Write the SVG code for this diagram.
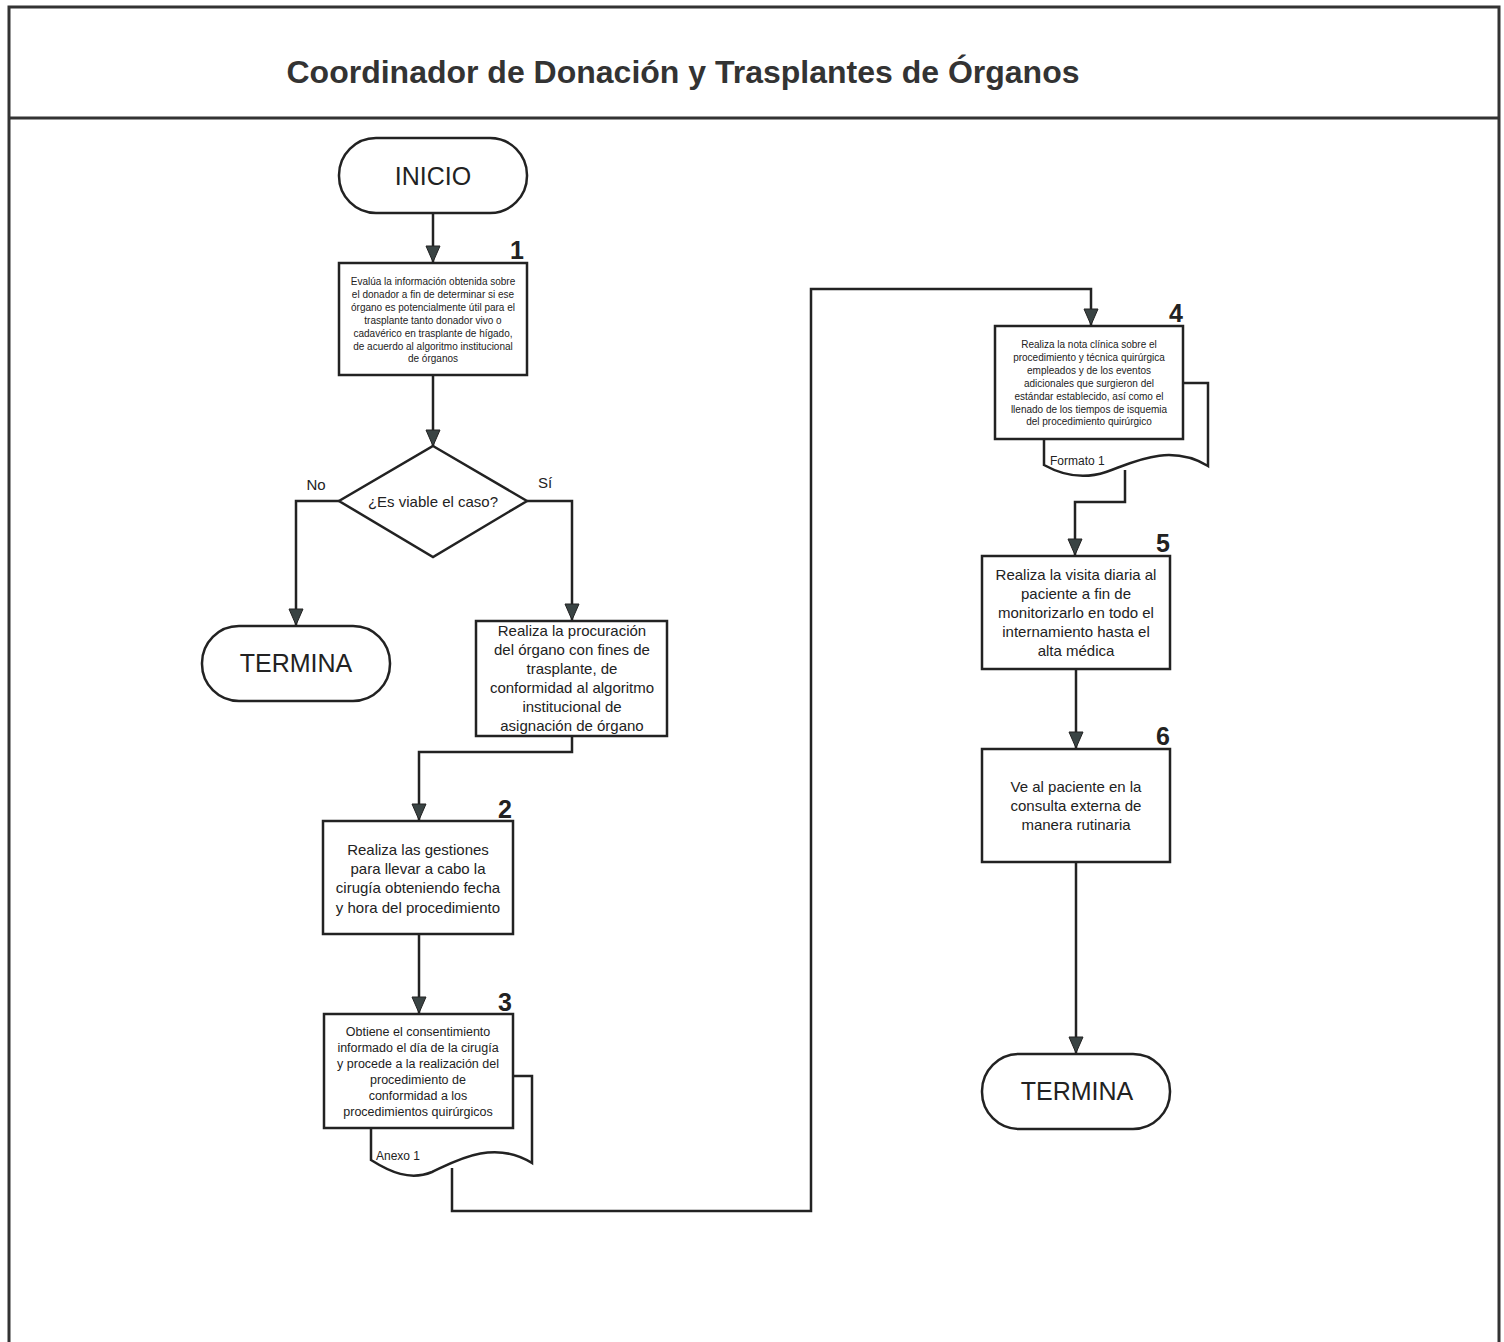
<svg xmlns="http://www.w3.org/2000/svg" width="1504" height="1342" viewBox="0 0 1504 1342">
<defs>
<marker id="arr" markerWidth="18" markerHeight="16" refX="17" refY="8" orient="auto" markerUnits="userSpaceOnUse" viewBox="0 0 18 16">
<path d="M1,1 L17,8 L1,15 Z" fill="#3a4444" stroke="#222" stroke-width="1"/>
</marker>
<style>
.frame{fill:none;stroke:#333;stroke-width:3}
.box{fill:#fff;stroke:#222;stroke-width:2.5}
.doc{fill:#fff;stroke:#222;stroke-width:2.5}
.conn{fill:none;stroke:#222;stroke-width:2.5}
.t{font-family:"Liberation Sans",Arial,sans-serif;fill:#222;text-anchor:middle}
.s10{font-size:10px}
.s15{font-size:15px}
.num{font-family:"Liberation Sans",Arial,sans-serif;font-weight:bold;font-size:25px;fill:#222;text-anchor:end}
.term{font-family:"Liberation Sans",Arial,sans-serif;font-size:25px;fill:#222;text-anchor:middle}
.lbl{font-family:"Liberation Sans",Arial,sans-serif;font-size:15px;fill:#222}
</style>
</defs>
<rect width="1504" height="1342" fill="#fff"/>
<g id="frame">
<path class="frame" d="M9,1342 V7 H1499 V1342"/>
<line class="frame" x1="9" y1="118" x2="1499" y2="118"/>
<text x="683" y="83" font-family="'Liberation Sans',Arial,sans-serif" font-size="31" font-weight="bold" fill="#333" text-anchor="middle" textLength="793" lengthAdjust="spacingAndGlyphs">Coordinador de Donación y Trasplantes de Órganos</text>
</g>
<g id="connectors">
<line class="conn" x1="433" y1="212" x2="433" y2="262" marker-end="url(#arr)"/>
<line class="conn" x1="433" y1="375" x2="433" y2="446" marker-end="url(#arr)"/>
<polyline class="conn" points="339,501 296,501 296,625" marker-end="url(#arr)"/>
<polyline class="conn" points="527,501 572,501 572,620" marker-end="url(#arr)"/>
<polyline class="conn" points="572,736 572,752 419,752 419,820" marker-end="url(#arr)"/>
<line class="conn" x1="419" y1="934" x2="419" y2="1013" marker-end="url(#arr)"/>
<polyline class="conn" points="452,1168 452,1211 811,1211 811,289 1091,289 1091,325" marker-end="url(#arr)"/>
<polyline class="conn" points="1125,470 1125,502 1075,502 1075,555" marker-end="url(#arr)"/>
<line class="conn" x1="1076" y1="669" x2="1076" y2="748" marker-end="url(#arr)"/>
<line class="conn" x1="1076" y1="862" x2="1076" y2="1053" marker-end="url(#arr)"/>
<text class="lbl" x="316" y="490" text-anchor="middle">No</text>
<text class="lbl" x="545" y="488" text-anchor="middle">Sí</text>
</g>
<g id="inicio">
<rect class="box" x="339" y="138" width="188" height="75" rx="37" ry="37"/>
<text class="term" x="433" y="185">INICIO</text>
</g>
<g id="step1">
<rect class="box" x="339" y="263" width="188" height="112"/>
<text class="num" x="524" y="259">1</text>
<text class="t s10" x="433"><tspan x="433" y="285">Evalúa la información obtenida sobre</tspan><tspan x="433" y="298">el donador a fin de determinar si ese</tspan><tspan x="433" y="311">órgano es potencialmente útil para el</tspan><tspan x="433" y="324">trasplante tanto donador vivo o</tspan><tspan x="433" y="337">cadavérico en trasplante de hígado,</tspan><tspan x="433" y="350">de acuerdo al algoritmo institucional</tspan><tspan x="433" y="362">de órganos</tspan></text>
</g>
<g id="decision">
<polygon class="box" points="433,446 527,501 433,557 339,501"/>
<text class="t s15" x="433" y="507">¿Es viable el caso?</text>
</g>
<g id="termina1">
<rect class="box" x="202" y="626" width="188" height="75" rx="37" ry="37"/>
<text class="term" x="296" y="672">TERMINA</text>
</g>
<g id="procuracion">
<rect class="box" x="476" y="621" width="191" height="115"/>
<text class="t s15"><tspan x="572" y="636">Realiza la procuración</tspan><tspan x="572" y="655">del órgano con fines de</tspan><tspan x="572" y="674">trasplante, de</tspan><tspan x="572" y="693">conformidad al algoritmo</tspan><tspan x="572" y="712">institucional de</tspan><tspan x="572" y="731">asignación de órgano</tspan></text>
</g>
<g id="step2">
<rect class="box" x="323" y="821" width="190" height="113"/>
<text class="num" x="512" y="818">2</text>
<text class="t s15"><tspan x="418" y="855">Realiza las gestiones</tspan><tspan x="418" y="874">para llevar a cabo la</tspan><tspan x="418" y="893">cirugía obteniendo fecha</tspan><tspan x="418" y="913">y hora del procedimiento</tspan></text>
</g>
<g id="step3">
<path class="doc" d="M371,1076 H532 V1163 C492,1138 452,1163 432,1172 C410,1181 390,1172 371,1160 Z"/>
<text class="lbl" x="376" y="1160" style="font-size:12px">Anexo 1</text>
<rect class="box" x="324" y="1014" width="189" height="114"/>
<text class="num" x="512" y="1011">3</text>
<text class="t" style="font-size:12.5px"><tspan x="418" y="1036">Obtiene el consentimiento</tspan><tspan x="418" y="1052">informado el día de la cirugía</tspan><tspan x="418" y="1068">y procede a la realización del</tspan><tspan x="418" y="1084">procedimiento de</tspan><tspan x="418" y="1100">conformidad a los</tspan><tspan x="418" y="1116">procedimientos quirúrgicos</tspan></text>
</g>
<g id="step4">
<path class="doc" d="M1044,383 H1208 V466 C1168,442 1130,464 1106,472 C1082,480 1062,475 1044,465 Z"/>
<text class="lbl" x="1050" y="465" style="font-size:12px">Formato 1</text>
<rect class="box" x="995" y="326" width="188" height="113"/>
<text class="num" x="1183" y="322">4</text>
<text class="t s10"><tspan x="1089" y="348">Realiza la nota clínica sobre el</tspan><tspan x="1089" y="361">procedimiento y técnica quirúrgica</tspan><tspan x="1089" y="374">empleados y de los eventos</tspan><tspan x="1089" y="387">adicionales que surgieron del</tspan><tspan x="1089" y="400">estándar establecido, así como el</tspan><tspan x="1089" y="413">llenado de los tiempos de isquemia</tspan><tspan x="1089" y="425">del procedimiento quirúrgico</tspan></text>
</g>
<g id="step5">
<rect class="box" x="982" y="556" width="188" height="113"/>
<text class="num" x="1170" y="552">5</text>
<text class="t s15"><tspan x="1076" y="580">Realiza la visita diaria al</tspan><tspan x="1076" y="599">paciente a fin de</tspan><tspan x="1076" y="618">monitorizarlo en todo el</tspan><tspan x="1076" y="637">internamiento hasta el</tspan><tspan x="1076" y="656">alta médica</tspan></text>
</g>
<g id="step6">
<rect class="box" x="982" y="749" width="188" height="113"/>
<text class="num" x="1170" y="745">6</text>
<text class="t s15"><tspan x="1076" y="792">Ve al paciente en la</tspan><tspan x="1076" y="811">consulta externa de</tspan><tspan x="1076" y="830">manera rutinaria</tspan></text>
</g>
<g id="termina2">
<rect class="box" x="982" y="1054" width="188" height="75" rx="37" ry="37"/>
<text class="term" x="1077" y="1100">TERMINA</text>
</g>
</svg>
